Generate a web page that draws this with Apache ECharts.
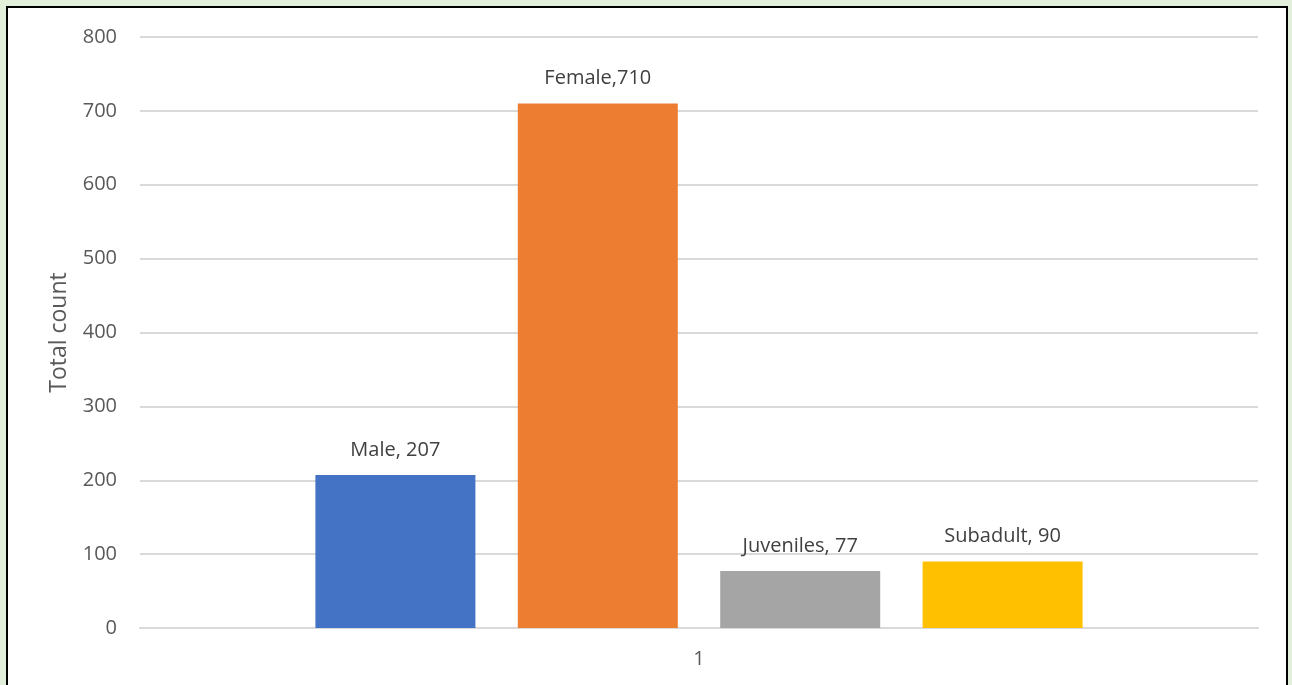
<!DOCTYPE html>
<html>
<head>
<meta charset="utf-8">
<script src="https://cdn.jsdelivr.net/npm/echarts@6/dist/echarts.min.js"></script>
<style>
  html, body { margin: 0; padding: 0; width: 1292px; height: 685px; overflow: hidden; background: #e2efda; }
  #frame { position: absolute; left: 6px; top: 6px; width: 1278px; height: 700px; border: 2px solid #000; background: #fff; }
  #chart { position: absolute; left: 0; top: 0; width: 1292px; height: 685px; }
</style>
</head>
<body>
<div id="frame"></div>
<div id="chart"></div>
<script>
// Total counts by group, one category on the x axis
const categories = ["1"];
const seriesNames = ["Male", "Female", "Juveniles", "Subadult"];
const seriesValues = [207, 710, 77, 90];
const labelSeparators = [", ", ",", ", ", ", "];
const seriesColors = ["#4472C4", "#ED7D31", "#A5A5A5", "#FFC000"];
const yTicks = { min: 0, max: 800, interval: 100 };

const FONT = "'Open Sans', sans-serif";

const chart = echarts.init(document.getElementById("chart"), null, { renderer: "canvas" });

const series = seriesNames.map((name, i) => ({
  name: name,
  type: "bar",
  data: [seriesValues[i]],
  barWidth: 160,
  barGap: "26.5%",
  itemStyle: { color: seriesColors[i] },
  label: {
    show: true,
    position: "top",
    distance: 15,
    color: "#404040",
    fontFamily: FONT,
    fontSize: 20,
    formatter: (p) => p.seriesName + labelSeparators[i] + p.value
  }
}));

chart.setOption({
  backgroundColor: "transparent",
  animation: false,
  grid: { left: 140, right: 34, top: 37, bottom: 57, containLabel: false },
  xAxis: {
    type: "category",
    data: categories,
    axisLine: { show: true, lineStyle: { color: "#d9d9d9", width: 2 } },
    axisTick: { show: false },
    axisLabel: { color: "#595959", fontFamily: FONT, fontSize: 20, margin: 21 }
  },
  yAxis: {
    type: "value",
    min: yTicks.min,
    max: yTicks.max,
    interval: yTicks.interval,
    name: "Total count",
    nameLocation: "middle",
    nameGap: 69,
    nameTextStyle: { color: "#595959", fontFamily: FONT, fontSize: 23 },
    axisLine: { show: false },
    axisTick: { show: false },
    axisLabel: { color: "#595959", fontFamily: FONT, fontSize: 20, margin: 23 },
    splitLine: { lineStyle: { color: "#d9d9d9", width: 2 } }
  },
  series: series
});
</script>
</body>
</html>
